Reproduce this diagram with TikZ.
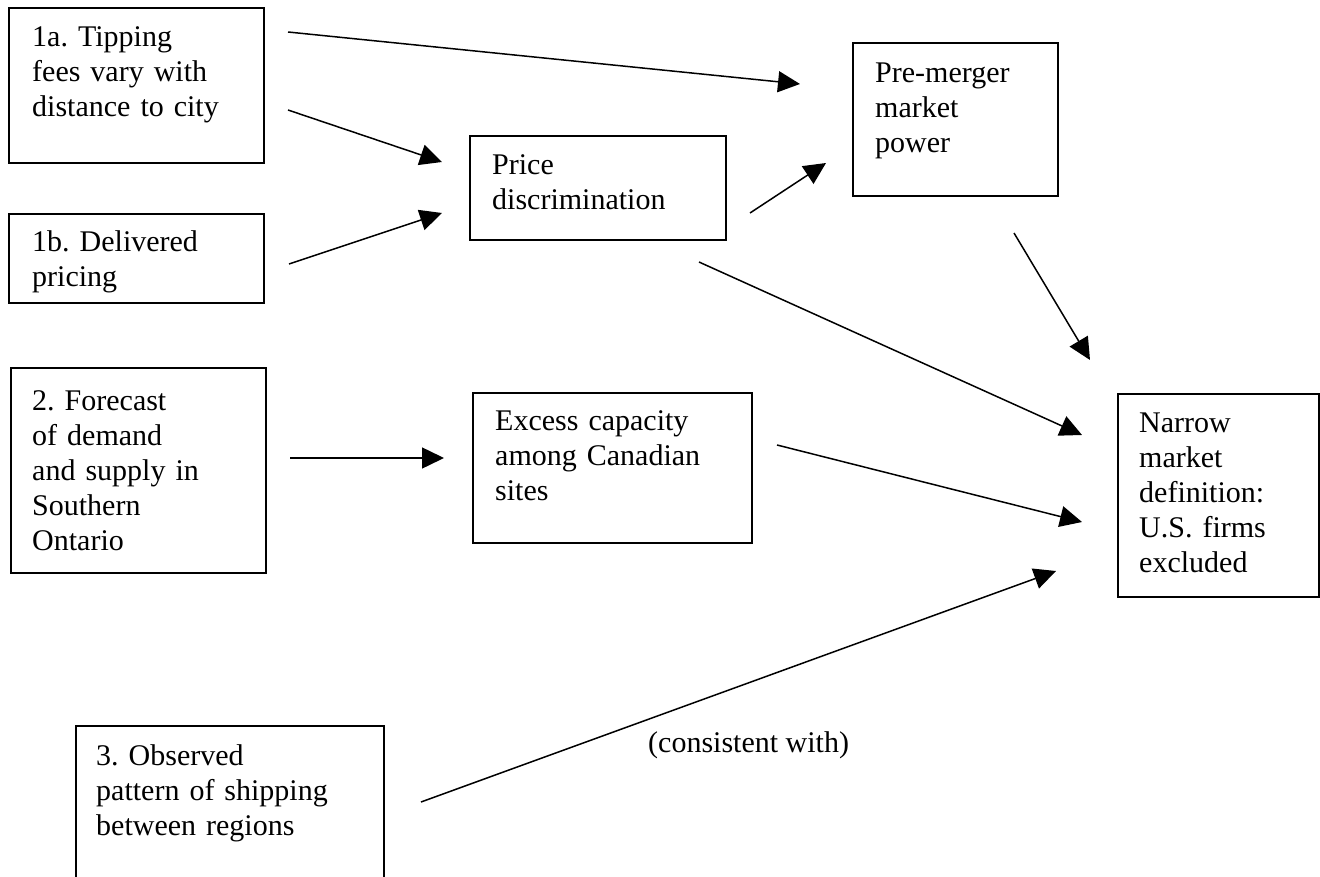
\documentclass[tikz,border=0pt]{standalone}
\usepackage{fontspec}
\setmainfont{Liberation Serif}
\usetikzlibrary{arrows.meta}
\frenchspacing
\begin{document}
\begin{tikzpicture}[x=1pt,y=-1pt,
  box/.style={draw, line width=1.6pt, inner sep=0pt, anchor=north west},
  txt/.style={font=\fontsize{30}{35}\selectfont, align=left, anchor=base west, inner sep=0pt, text width=#1},
  txt/.default=300pt,
  arr/.style={line width=1.5pt, -{Triangle[length=22pt,width=21pt]}}]
\useasboundingbox (0,0) rectangle (1320,877);
\clip (0,0) rectangle (1320,877);
% boxes
\node[box, minimum width=255pt, minimum height=155pt] (b1a) at (8,7) {};
\node[box, minimum width=255pt, minimum height=89pt]  (b1b) at (8,213) {};
\node[box, minimum width=255pt, minimum height=205pt] (b2)  at (10,367) {};
\node[box, minimum width=308pt, minimum height=180pt] (b3)  at (75,725) {};
\node[box, minimum width=256pt, minimum height=104pt] (pd)  at (469,135) {};
\node[box, minimum width=279pt, minimum height=150pt] (ex)  at (472,392) {};
\node[box, minimum width=205pt, minimum height=153pt] (pm)  at (852,42) {};
\node[box, minimum width=201pt, minimum height=203pt] (nm)  at (1117,393) {};
% texts
\node[txt] (t1a) at (32,47) {\frenchspacing 1a. Tipping\\fees vary with\\distance to city};
\node[txt] (t1b) at (32,252) {\frenchspacing 1b. Delivered\\pricing};
\node[txt] (t2)  at (32,410) {\frenchspacing 2. Forecast\\of demand\\and supply in\\Southern\\Ontario};
\node[txt] (t3)  at (96,765) {\frenchspacing 3. Observed\\pattern of shipping\\between regions};
\node[txt] (tpd) at (492,175) {Price\\discrimination};
\node[txt] (tex) at (495,430) {Excess capacity\\among Canadian\\sites};
\node[txt] (tpm) at (875,83) {Pre-merger\\market\\power};
\node[txt=180pt] (tnm) at (1139,432) {\frenchspacing Narrow\\market\\definition:\\U.S. firms\\excluded};
\node[font=\fontsize{30}{35}\selectfont, anchor=base west, inner sep=0pt] (cw) at (648,752) {(consistent with)};
% connector end points
\coordinate (s1) at (288,32);   \coordinate (e1) at (800,84);
\coordinate (s2) at (288,110);  \coordinate (e2) at (442,162);
\coordinate (s3) at (289,264);  \coordinate (e3) at (442,213);
\coordinate (s4) at (750,213);  \coordinate (e4) at (826,163);
\coordinate (s5) at (1014,233); \coordinate (e5) at (1090,360);
\coordinate (s6) at (699,262);  \coordinate (e6) at (1082,435);
\coordinate (s7) at (290,458);  \coordinate (e7) at (444,458);
\coordinate (s8) at (777,445);  \coordinate (e8) at (1082,522);
\coordinate (s9) at (421,802);  \coordinate (e9) at (1056,571);
% connectors
\draw[arr] (s1) -- (e1);
\draw[arr] (s2) -- (e2);
\draw[arr] (s3) -- (e3);
\draw[arr] (s4) -- (e4);
\draw[arr] (s5) -- (e5);
\draw[arr] (s6) -- (e6);
\draw[arr] (s7) -- (e7);
\draw[arr] (s8) -- (e8);
\draw[arr] (s9) -- (e9);
\end{tikzpicture}
\end{document}
